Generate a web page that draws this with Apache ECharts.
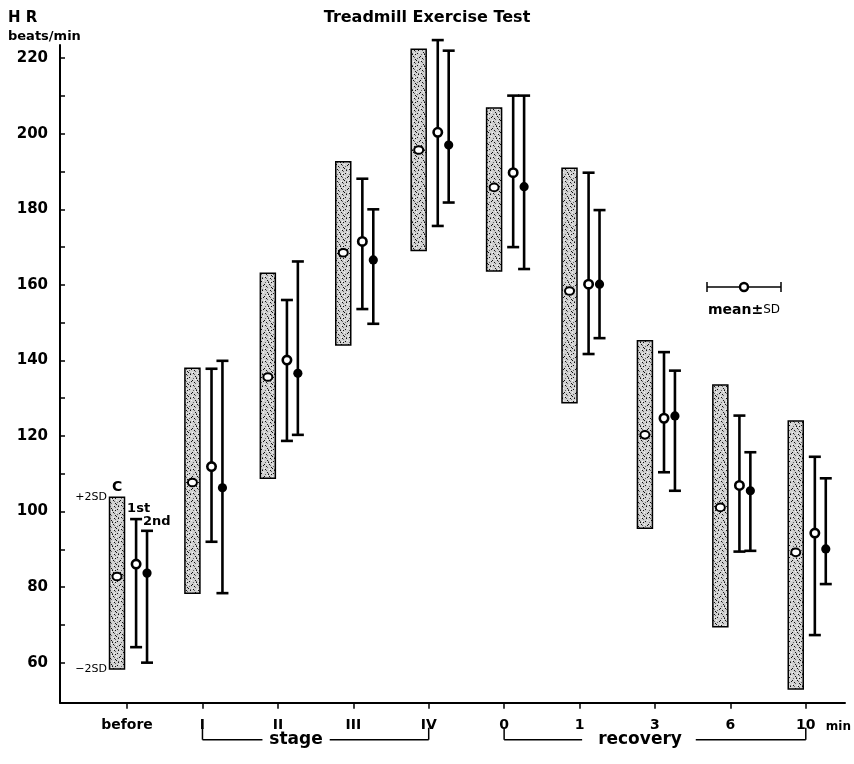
<!DOCTYPE html>
<html>
<head>
<meta charset="utf-8">
<script src="https://cdn.jsdelivr.net/npm/echarts@6/dist/echarts.min.js"></script>
<style>html,body{margin:0;padding:0;background:#fff;}#c{width:854px;height:764px;}</style>
</head>
<body>
<div id="c"></div>
<script>
// ---- data ----
const categories = ['before', 'I', 'II', 'III', 'IV', '0', '1', '3', '6', '10'];
// control group (stippled bar = mean ± 2SD)
const ctrlLow  = [58.3, 78.4, 108.8, 144.1, 169.1, 163.7, 128.8, 95.6, 69.5, 53.0];
const ctrlHigh = [103.8, 137.9, 163.1, 192.6, 222.4, 206.8, 190.9, 145.2, 133.5, 124.0];
const ctrlMean = [82.8, 107.7, 135.6, 168.5, 195.7, 185.8, 158.4, 120.3, 101.1, 89.2];
// 1st test (open circle, mean ± SD)
const firstLow  = [64.1, 92.0, 118.7, 153.6, 175.6, 170.0, 141.7, 110.4, 89.4, 67.3];
const firstHigh = [98.0, 137.8, 156.0, 188.1, 224.8, 210.1, 189.7, 142.2, 125.4, 114.5];
const firstMean = [86.1, 111.9, 140.1, 171.5, 200.4, 189.7, 160.2, 124.7, 106.9, 94.3];
// 2nd test (filled circle, mean ± SD)
const secondLow  = [60.0, 78.4, 120.3, 149.7, 181.8, 164.2, 145.9, 105.5, 89.6, 80.8];
const secondHigh = [94.9, 139.9, 166.2, 180.0, 222.0, 210.1, 179.8, 137.3, 115.7, 108.8];
const secondMean = [83.7, 106.3, 136.6, 166.6, 197.0, 186.0, 160.2, 125.3, 105.5, 90.1];
// axis ticks / labels
const yTickValues  = [60, 70, 80, 90, 100, 110, 120, 130, 140, 150, 160, 170, 180, 190, 200, 210, 220];
const yLabelValues = [60, 80, 100, 120, 140, 160, 180, 200, 220];
const xTickValues  = [0, 1, 2, 3, 4, 5, 6, 7, 8, 9];

// ---- styling constants ----
const OFF_CTRL = -0.133, OFF_FIRST = 0.12, OFF_SECOND = 0.265;
const FONT = 'DejaVu Sans';

// stipple pattern (deterministic)
const pat = document.createElement('canvas');
pat.width = 12; pat.height = 12;
(function () {
  const g = pat.getContext('2d');
  g.fillStyle = '#d2d2d2'; g.fillRect(0, 0, 12, 12);
  g.fillStyle = '#111';
  const dots = [[1,1],[6,2],[3,4],[9,5],[0,8],[5,8],[2,10],[8,0],[11,9],[4,6],[10,2],[7,11],[7,6]];
  dots.forEach(d => g.fillRect(d[0], d[1], 1, 1));
  g.fillStyle = '#666';
  const dots2 = [[2,2],[7,3],[4,5],[1,6],[6,9],[10,1],[9,10],[3,11]];
  dots2.forEach(d => g.fillRect(d[0], d[1], 1, 1));
  g.fillStyle = '#f2f2f2';
  const dots3 = [[0,0],[5,1],[3,7],[8,8],[11,4],[6,5]];
  dots3.forEach(d => g.fillRect(d[0], d[1], 1, 1));
})();

function rows(low, high, mean) {
  return categories.map((c, i) => [i, low[i], high[i], mean[i]]);
}

function renderCtrl(params, api) {
  const x = api.value(0) + OFF_CTRL;
  const top = api.coord([x, api.value(2)]);
  const bot = api.coord([x, api.value(1)]);
  const m = api.coord([x, api.value(3)]);
  return {
    type: 'group',
    children: [
      { type: 'rect', shape: { x: top[0] - 7.5, y: top[1], width: 15, height: bot[1] - top[1] },
        style: { fill: { type: 'pattern', image: pat, repeat: 'repeat' }, stroke: '#000', lineWidth: 1.5 } },
      { type: 'ellipse', shape: { cx: m[0], cy: m[1], rx: 4.5, ry: 3.8 },
        style: { fill: '#fff', stroke: '#000', lineWidth: 2 } }
    ]
  };
}

function makeErr(offset, filled) {
  return function (params, api) {
    const x = api.value(0) + offset;
    const top = api.coord([x, api.value(2)]);
    const bot = api.coord([x, api.value(1)]);
    const m = api.coord([x, api.value(3)]);
    const ls = { stroke: '#000', lineWidth: 2.6 };
    return {
      type: 'group',
      children: [
        { type: 'line', shape: { x1: top[0], y1: top[1], x2: bot[0], y2: bot[1] }, style: ls },
        { type: 'line', shape: { x1: top[0] - 6, y1: top[1], x2: top[0] + 6, y2: top[1] }, style: ls },
        { type: 'line', shape: { x1: bot[0] - 6, y1: bot[1], x2: bot[0] + 6, y2: bot[1] }, style: ls },
        filled
          ? { type: 'circle', shape: { cx: m[0], cy: m[1], r: 4.6 }, style: { fill: '#000' } }
          : { type: 'circle', shape: { cx: m[0], cy: m[1], r: 4.2 }, style: { fill: '#fff', stroke: '#000', lineWidth: 2.6 } }
      ]
    };
  };
}

const chart = echarts.init(document.getElementById('c'), null, { renderer: 'canvas' });

const option = {
  animation: false,
  backgroundColor: '#fff',
  title: {
    text: 'Treadmill Exercise Test',
    left: 'center', top: 5,
    textStyle: { fontFamily: FONT, fontSize: 16, fontWeight: 'bold', color: '#000' }
  },
  grid: { left: 60, right: 9, top: 45, bottom: 61.3 },
  xAxis: {
    type: 'value', min: -0.889, max: 9.52,
    axisLine: { show: true, onZero: false, lineStyle: { color: '#000', width: 2 } },
    axisTick: { show: true, customValues: xTickValues, length: 6, inside: false, lineStyle: { color: '#000', width: 1.5 } },
    axisLabel: {
      customValues: xTickValues, margin: 16,
      fontFamily: FONT, fontSize: 14, fontWeight: 'bold', color: '#000',
      formatter: v => categories[Math.round(v)]
    },
    splitLine: { show: false }
  },
  yAxis: {
    type: 'value', min: 49.4, max: 223.5,
    axisLine: { show: true, onZero: false, lineStyle: { color: '#000', width: 2 } },
    axisTick: { show: true, customValues: yTickValues, length: 5, inside: true, lineStyle: { color: '#000', width: 1.5 } },
    axisLabel: {
      customValues: yLabelValues, margin: 12,
      fontFamily: FONT, fontSize: 15, fontWeight: 'bold', color: '#000'
    },
    splitLine: { show: false }
  },
  series: [
    { name: 'C', type: 'custom', renderItem: renderCtrl, data: rows(ctrlLow, ctrlHigh, ctrlMean),
      encode: { x: 0, y: [1, 2, 3] }, clip: false, z: 2 },
    { name: '1st', type: 'custom', renderItem: makeErr(OFF_FIRST, false), data: rows(firstLow, firstHigh, firstMean),
      encode: { x: 0, y: [1, 2, 3] }, clip: false, z: 3 },
    { name: '2nd', type: 'custom', renderItem: makeErr(OFF_SECOND, true), data: rows(secondLow, secondHigh, secondMean),
      encode: { x: 0, y: [1, 2, 3] }, clip: false, z: 3 }
  ]
};
chart.setOption(option);

// ---- annotations positioned from the axes ----
const px = (x, y) => chart.convertToPixel({ xAxisIndex: 0, yAxisIndex: 0 }, [x, y]);
const baseY = px(0, 49.4)[1];
const bxI = px(1, 0)[0], bxIV = px(4, 0)[0], bx0 = px(5, 0)[0], bx10 = px(9, 0)[0];
const bTop = baseY + 25, bBot = baseY + 37;
const ln = (x1, y1, x2, y2) => ({ type: 'line', shape: { x1, y1, x2, y2 }, style: { stroke: '#000', lineWidth: 1.5 } });
const txt = (x, y, text, font, align, vAlign) => ({
  type: 'text', x, y,
  style: { text, font, fill: '#000', align: align || 'left', verticalAlign: vAlign || 'middle' }
});

const cTop = px(0 + OFF_CTRL, ctrlHigh[0]);
const cBot = px(0 + OFF_CTRL, ctrlLow[0]);
const fTop = px(0 + OFF_FIRST, firstHigh[0]);
const sTop = px(0 + OFF_SECOND, secondHigh[0]);

const g = [
  // y-axis title
  txt(8, 18, 'H R', 'bold 15px ' + FONT),
  txt(8, 37, 'beats/min', 'bold 13px ' + FONT),
  // stage bracket
  ln(bxI, bTop, bxI, bBot), ln(bxI, bBot, bxI + 60, bBot),
  txt(296, bBot, 'stage', 'bold 17px ' + FONT, 'center'),
  ln(bxIV - 99, bBot, bxIV, bBot), ln(bxIV, bTop, bxIV, bBot),
  // recovery bracket
  ln(bx0, bTop, bx0, bBot), ln(bx0, bBot, bx0 + 78, bBot),
  txt(640, bBot, 'recovery', 'bold 17px ' + FONT, 'center'),
  ln(bx10 - 110, bBot, bx10, bBot), ln(bx10, bTop, bx10, bBot),
  // "min" after 10
  txt(bx10 + 20, baseY + 24, 'min', 'bold 12px ' + FONT),
  // group labels at "before"
  txt(cTop[0], cTop[1] - 10, 'C', 'bold 14px ' + FONT, 'center'),
  txt(fTop[0] - 9, fTop[1] - 10, '1st', 'bold 13px ' + FONT),
  txt(sTop[0] - 4, sTop[1] - 9, '2nd', 'bold 13px ' + FONT),
  txt(cTop[0] - 10, cTop[1], '+2SD', '11px ' + FONT, 'right'),
  txt(cBot[0] - 10, cBot[1], '\u22122SD', '11px ' + FONT, 'right'),
  // mean ± SD key
  { type: 'line', shape: { x1: 707, y1: 287, x2: 781, y2: 287 }, style: { stroke: '#000', lineWidth: 1.5 } },
  { type: 'line', shape: { x1: 707, y1: 282, x2: 707, y2: 292 }, style: { stroke: '#000', lineWidth: 1.5 } },
  { type: 'line', shape: { x1: 781, y1: 282, x2: 781, y2: 292 }, style: { stroke: '#000', lineWidth: 1.5 } },
  { type: 'circle', shape: { cx: 744, cy: 287, r: 4 }, style: { fill: '#fff', stroke: '#000', lineWidth: 2.4 } },
  {
    type: 'text', x: 708, y: 310,
    style: {
      text: '{a|mean}{b|\u00b1}{c|SD}',
      verticalAlign: 'middle',
      rich: {
        a: { font: 'bold 14px ' + FONT, fill: '#000' },
        b: { font: 'bold 14px ' + FONT, fill: '#000' },
        c: { font: '12px ' + FONT, fill: '#000' }
      }
    }
  }
];
chart.setOption({ graphic: g });
</script>
</body>
</html>
